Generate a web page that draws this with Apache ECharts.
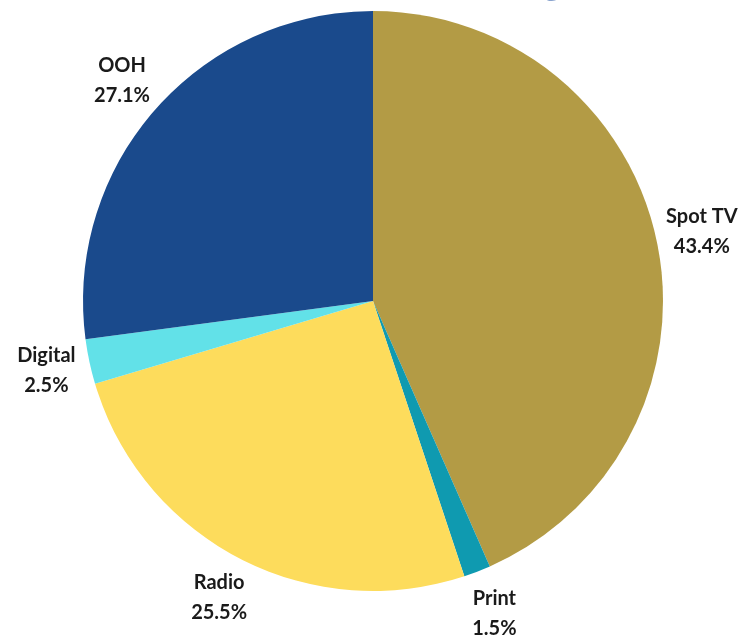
<!DOCTYPE html>
<html>
<head>
<meta charset="utf-8">
<style>
  html, body { margin: 0; padding: 0; background: #fff; }
  #chart { width: 748px; height: 635px; }
</style>
<script src="https://cdn.jsdelivr.net/npm/echarts@6/dist/echarts.min.js"></script>
</head>
<body>
<div id="chart"></div>
<script>
const categories = ['Spot TV', 'Print', 'Radio', 'Digital', 'OOH'];
const shares = [43.4, 1.5, 25.5, 2.5, 27.1];
const colors = ['#b39b45', '#0f9ab0', '#fddc5c', '#62e1e8', '#1a4a8c'];
const titleText = 'Spending';

(function () {
  const chart = echarts.init(document.getElementById('chart'));
  const font = 'Lato, "Open Sans", sans-serif';

  const slices = categories.map((name, i) => ({
    name: name,
    value: shares[i],
    itemStyle: { color: colors[i] }
  }));

  const option = {
    animation: false,
    graphic: [
      {
        // title sits mostly above the visible area, only descenders show
        type: 'text',
        left: 352,
        top: -52,
        silent: true,
        style: {
          text: titleText,
          font: 'bold 52px ' + font,
          fill: '#1e4fa0'
        }
      }
    ],
    series: [
      {
        type: 'pie',
        center: [373, 301],
        radius: [0, 290],
        startAngle: 90,
        clockwise: true,
        label: { show: false },
        labelLine: { show: false },
        emphasis: { disabled: true },
        data: slices
      },
      {
        // invisible ring that only carries the labels
        type: 'pie',
        center: [374, 301],
        radius: [328, 336],
        startAngle: 90,
        clockwise: true,
        silent: true,
        itemStyle: { color: 'rgba(0,0,0,0)' },
        label: {
          show: true,
          position: 'inside',
          formatter: (p) => p.name + '\n' + p.value.toFixed(1) + '%',
          color: '#1a1a1a',
          fontFamily: font,
          fontWeight: 'bold',
          fontSize: 20,
          lineHeight: 30,
          align: 'center'
        },
        labelLine: { show: false },
        emphasis: { disabled: true },
        data: slices.map((s) => ({ name: s.name, value: s.value }))
      }
    ]
  };

  chart.setOption(option);
  window.addEventListener('resize', () => chart.resize());
})();
</script>
</body>
</html>
